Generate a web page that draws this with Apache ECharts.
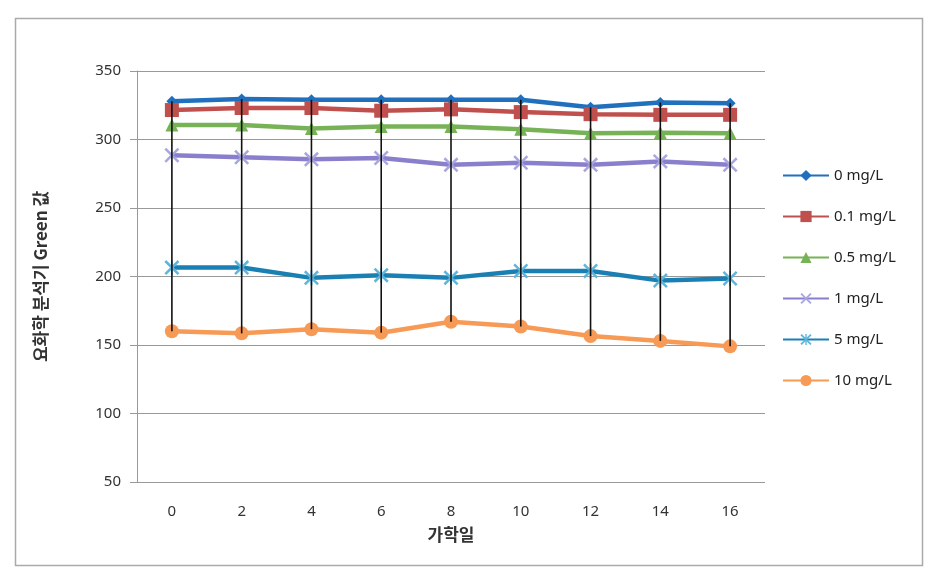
<!DOCTYPE html>
<html>
<head>
<meta charset="utf-8">
<script src="https://cdn.jsdelivr.net/npm/echarts@6/dist/echarts.min.js"></script>
<style>html,body{margin:0;padding:0;background:#fff;}#c{width:939px;height:580px;}</style>
</head>
<body>
<div id="c"></div>
<script>
const categories = ['0','2','4','6','8','10','12','14','16'];
const seriesNames = ['0 mg/L','0.1 mg/L','0.5 mg/L','1 mg/L','5 mg/L','10 mg/L'];
const s0   = [328, 329.5, 329, 329, 329, 329, 323.5, 327, 326.5];
const s01  = [321.5, 323, 323, 321, 322, 320, 318.5, 318, 318];
const s05  = [310.5, 310.5, 308, 309.5, 309.5, 307.5, 304.5, 305, 304.5];
const s1   = [288.5, 287, 285.5, 286.5, 281.5, 283, 281.5, 284, 281.5];
const s5   = [206.5, 206.5, 199, 201, 199, 204, 204, 197, 198.5];
const s10  = [160, 158.5, 161.5, 159, 167, 163.5, 156.5, 153, 149];
const yTicks = {min: 50, max: 350, interval: 50};

const allSeries = [s0, s01, s05, s1, s5, s10];
const hiLo = categories.map((c, i) => {
  const vals = allSeries.map(s => s[i]);
  return [i, Math.max.apply(null, vals), Math.min.apply(null, vals)];
});

const colors = ['#2070bd', '#c0504d', '#77b257', '#8a7fcc', '#1a80b4', '#f79a55'];
const xPath = 'path://M0,1.2 L1.2,0 L10,8.8 L8.8,10 Z M8.8,0 L10,1.2 L1.2,10 L0,8.8 Z';
const starPath = 'path://M0,1.2 L1.2,0 L10,8.8 L8.8,10 Z M8.8,0 L10,1.2 L1.2,10 L0,8.8 Z M4.4,0 L5.6,0 L5.6,10 L4.4,10 Z';
const symbols = ['diamond', 'rect', 'triangle', xPath, starPath, 'circle'];
const symSizes = [11, 14, 13, 15, 15, 14];

const chart = echarts.init(document.getElementById('c'));
const lineSeries = seriesNames.map((n, k) => ({
  name: n,
  type: 'line',
  data: allSeries[k],
  symbol: symbols[k],
  symbolSize: symSizes[k],
  showAllSymbol: true,
  lineStyle: {width: 4.5, color: colors[k]},
  itemStyle: {color: k === 3 ? '#a9a7e0' : (k === 4 ? '#5fb6dd' : colors[k])},
  z: 3 + k
}));
lineSeries.push({
  type: 'custom',
  name: 'hilo',
  data: hiLo,
  z: 20,
  silent: true,
  renderItem: function (params, api) {
    const p1 = api.coord([api.value(0), api.value(1)]);
    const p2 = api.coord([api.value(0), api.value(2)]);
    return {type: 'line', shape: {x1: p1[0], y1: p1[1], x2: p2[0], y2: p2[1]}, style: {stroke: '#111', lineWidth: 1.6}};
  }
});

chart.setOption({
  animation: false,
  backgroundColor: '#fff',
  textStyle: {fontFamily: '"Noto Sans", "Noto Sans CJK KR", sans-serif'},
  graphic: [{
    type: 'rect', shape: {x: 15.5, y: 18.5, width: 907, height: 547},
    style: {fill: 'none', stroke: '#aaaaaa', lineWidth: 1.5}, silent: true, z: -1
  }],
  grid: {left: 137, right: 174, top: 71, bottom: 98},
  legend: {
    orient: 'vertical', left: 777, top: 163, itemGap: 26,
    itemWidth: 46, itemHeight: 14,
    data: seriesNames,
    textStyle: {fontSize: 15, color: '#222', fontFamily: '"Noto Sans", sans-serif'}
  },
  xAxis: {
    type: 'category', data: categories, boundaryGap: true,
    name: '가학일', nameLocation: 'middle', nameGap: 44,
    nameTextStyle: {fontSize: 17, fontWeight: 'bold', color: '#333', fontFamily: '"Noto Sans CJK KR", sans-serif'},
    axisLine: {show: false}, axisTick: {show: false},
    axisLabel: {fontSize: 15, color: '#333', margin: 22}
  },
  yAxis: {
    type: 'value', min: yTicks.min, max: yTicks.max, interval: yTicks.interval,
    name: '요화학 분석기 Green 값', nameLocation: 'middle', nameGap: 88, nameRotate: 90,
    nameTextStyle: {fontSize: 17, fontWeight: 'bold', color: '#333', fontFamily: '"Noto Sans CJK KR", sans-serif'},
    axisLine: {show: true, lineStyle: {color: '#999', width: 1}},
    axisTick: {show: true, length: 7, inside: false, lineStyle: {color: '#999'}},
    splitLine: {lineStyle: {color: '#999', width: 1}},
    axisLabel: {fontSize: 15, color: '#333', margin: 16}
  },
  series: lineSeries
});
</script>
</body>
</html>
